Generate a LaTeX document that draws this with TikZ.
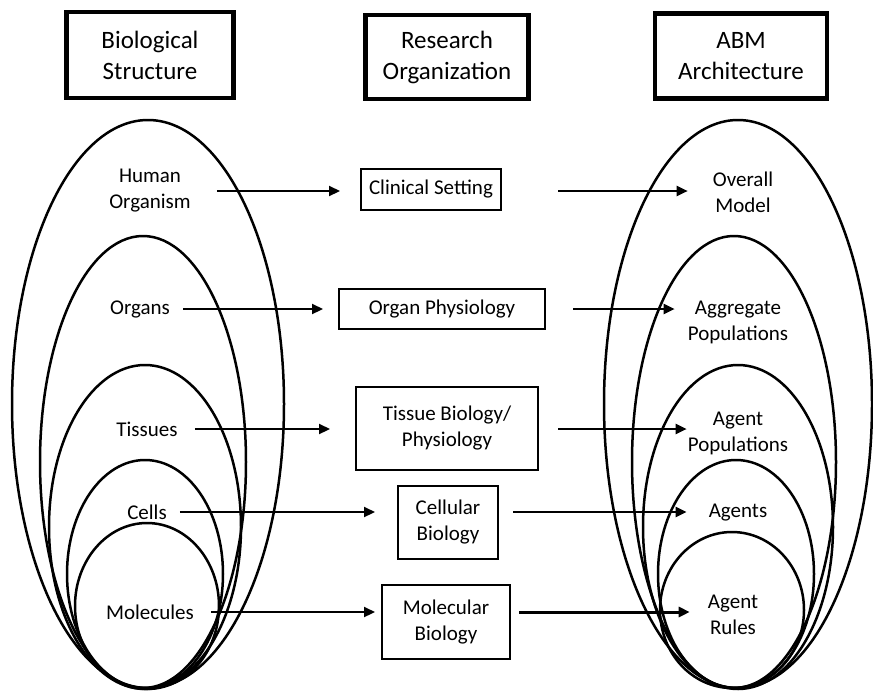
\documentclass[tikz,border=0pt]{standalone}
\usepackage{fontspec}
\setmainfont{Carlito}
\usetikzlibrary{arrows.meta}
\begin{document}
\begin{tikzpicture}[x=1pt,y=-1pt,
    label node/.style={align=center,inner sep=0pt,font=\fontsize{21}{26}\selectfont},
    title box/.style={draw,line width=4.5pt,align=center,font=\fontsize{25}{31}\selectfont},
    mid box/.style={draw,line width=2pt,align=center,font=\fontsize{21}{26}\selectfont},
    shell/.style={line width=2.5pt},
    arr/.style={line width=2.2pt,-{Triangle[length=11pt,width=10pt]}}
  ]
  \useasboundingbox (0,0) rectangle (873,691);

  % column headings
  \node[title box,minimum width=167pt,minimum height=86pt] (bio) at (150,55) {Biological\\Structure};
  \node[title box,minimum width=163pt,minimum height=84pt] (research) at (447,57) {Research\\Organization};
  \node[title box,minimum width=172pt,minimum height=85pt] (abm) at (741,56) {ABM\\Architecture};

  % nested shells, left
  \draw[shell] (148,404) ellipse [x radius=136pt, y radius=284pt];
  \draw[shell] (143,462) ellipse [x radius=103pt, y radius=226pt];
  \draw[shell] (145,527) ellipse [x radius=96pt, y radius=162pt];
  \draw[shell] (145,574) ellipse [x radius=78pt, y radius=114pt];
  \draw[shell] (147,606) ellipse [x radius=72pt, y radius=83pt];

  % nested shells, right
  \draw[shell] (738,404) ellipse [x radius=134pt, y radius=284pt];
  \draw[shell] (734,462) ellipse [x radius=102pt, y radius=226pt];
  \draw[shell] (738,527) ellipse [x radius=95pt, y radius=162pt];
  \draw[shell] (736,574) ellipse [x radius=78pt, y radius=114pt];
  \draw[shell] (732,610) ellipse [x radius=72pt, y radius=78pt];

  \node[label node] (human) at (150,191) {Human\\Organism};
  \node[label node] (organs) at (140,309) {Organs};
  \node[label node] (tissues) at (147,429) {Tissues};
  \node[label node] (cells) at (147,512) {Cells};
  \node[label node] (molecules) at (150,612) {Molecules};

  \node[mid box,minimum width=140pt,minimum height=41pt] (clinical) at (431,189) {Clinical Setting};
  \node[mid box,minimum width=206pt,minimum height=40pt] (organphys) at (442,309) {Organ Physiology};
  \node[mid box,minimum width=182pt,minimum height=83pt] (tissue) at (447,428) {Tissue Biology/\\Physiology};
  \node[mid box,minimum width=100pt,minimum height=73pt] (cellular) at (448,522) {Cellular\\Biology};
  \node[mid box,minimum width=128pt,minimum height=74pt] (molecular) at (446,622) {Molecular\\Biology};

  \node[label node] (overall) at (743,192) {Overall\\Model};
  \node[label node] (aggregate) at (738,322) {Aggregate\\Populations};
  \node[label node] (agentpop) at (738,433) {Agent\\Populations};
  \node[label node] (agents) at (738,513) {Agents};
  \node[label node] (rules) at (733,615) {Agent\\Rules};

  \path%
   (human) edge[arr,shorten <=26pt,shorten >=20pt] (clinical.west |- human)
   (organs) edge[arr,shorten <=13pt,shorten >=15pt] (organphys.west |- organs)
   (tissues) edge[arr,shorten <=17pt,shorten >=25pt] (tissue.west |- tissues)
   (cells) edge[arr,shorten <=13pt,shorten >=22pt] (cellular.west |- cells)
   (molecules) edge[arr,shorten <=17pt,shorten >=6pt] (molecular.west |- molecules)
   (clinical.east |- human) edge[arr,shorten <=56pt,shorten >=25pt] (overall.west |- human)
   (organphys.east |- organs) edge[arr,shorten <=27pt,shorten >=13pt] (aggregate.west |- organs)
   (tissue.east |- tissues) edge[arr,shorten <=19pt,shorten >=1pt] (agentpop.west |- tissues)
   (cellular.east |- cells) edge[arr,shorten <=14pt,shorten >=22pt] (agents.west |- cells)
   (molecular.east |- molecules) edge[arr,line width=3pt,shorten <=8pt,shorten >=18pt] (rules.west |- molecules);
\end{tikzpicture}
\end{document}
